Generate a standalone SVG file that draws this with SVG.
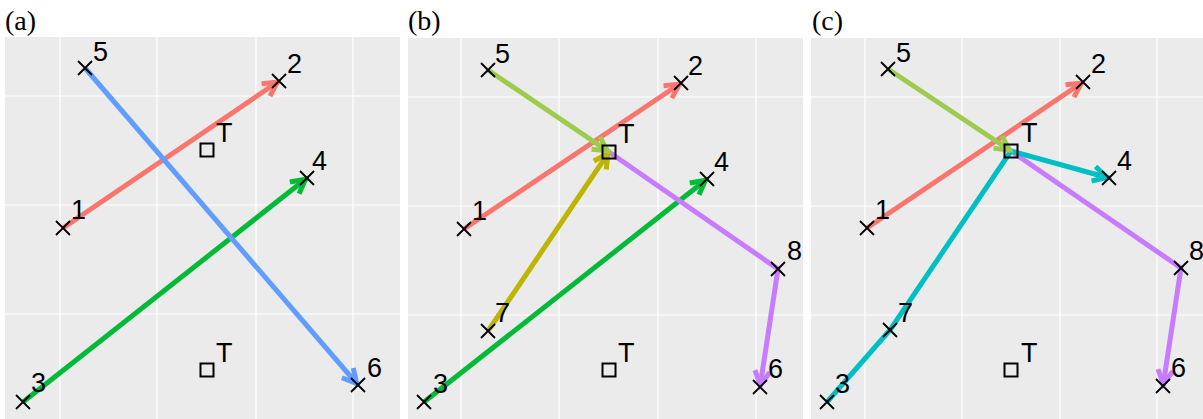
<svg xmlns="http://www.w3.org/2000/svg" xmlns:xlink="http://www.w3.org/1999/xlink" width="1203" height="419" viewBox="0 0 1203 419">
<style>
.bg{fill:#EBEBEB}
.grid{stroke:#FFFFFF;stroke-width:1.2;fill:none}
.ttl{font-family:"Liberation Serif","Times New Roman",serif;font-size:28px;fill:#000}
.lbl{font-family:"Liberation Sans",Arial,sans-serif;font-size:27px;fill:#000}
.x{stroke:#000;stroke-width:1.8;fill:none}
.sq{stroke:#000;stroke-width:2;fill:none}
.e{fill:none;stroke-width:5;stroke-linejoin:round}
.ah{fill:none;stroke-width:5;stroke-linejoin:miter}
</style>
<defs>
<path id="cx" d="M-7,-7L7,7M-7,7L7,-7"/>
<marker id="m-red" markerUnits="userSpaceOnUse" viewBox="-30 -15 40 30" markerWidth="40" markerHeight="30" refX="0" refY="0" orient="auto" overflow="visible"><path class="ah" stroke="#F8766D" d="M-16,-7.5L-2,0L-16,7.5"/></marker>
<marker id="m-grn" markerUnits="userSpaceOnUse" viewBox="-30 -15 40 30" markerWidth="40" markerHeight="30" refX="0" refY="0" orient="auto" overflow="visible"><path class="ah" stroke="#00BA38" d="M-16,-7.5L-2,0L-16,7.5"/></marker>
<marker id="m-blu" markerUnits="userSpaceOnUse" viewBox="-30 -15 40 30" markerWidth="40" markerHeight="30" refX="0" refY="0" orient="auto" overflow="visible"><path class="ah" stroke="#619CFF" d="M-16,-7.5L-2,0L-16,7.5"/></marker>
<marker id="m-lim" markerUnits="userSpaceOnUse" viewBox="-30 -15 40 30" markerWidth="40" markerHeight="30" refX="0" refY="0" orient="auto" overflow="visible"><path class="ah" stroke="#9CCB4E" d="M-16,-7.5L-2,0L-16,7.5"/></marker>
<marker id="m-oli" markerUnits="userSpaceOnUse" viewBox="-30 -15 40 30" markerWidth="40" markerHeight="30" refX="0" refY="0" orient="auto" overflow="visible"><path class="ah" stroke="#BDB500" d="M-16,-7.5L-2,0L-16,7.5"/></marker>
<marker id="m-pur" markerUnits="userSpaceOnUse" viewBox="-30 -15 40 30" markerWidth="40" markerHeight="30" refX="0" refY="0" orient="auto" overflow="visible"><path class="ah" stroke="#C77CFF" d="M-16,-7.5L-2,0L-16,7.5"/></marker>
<marker id="m-cya" markerUnits="userSpaceOnUse" viewBox="-30 -15 40 30" markerWidth="40" markerHeight="30" refX="0" refY="0" orient="auto" overflow="visible"><path class="ah" stroke="#00BFC4" d="M-16,-7.5L-2,0L-16,7.5"/></marker>
</defs>

<!-- panel backgrounds and grids -->
<g id="panels">
<rect class="bg" x="5" y="37" width="395" height="382"/>
<rect class="bg" x="408" y="38" width="395" height="381"/>
<rect class="bg" x="811" y="38" width="392" height="381"/>
<path class="grid" d="M60,37V419M157,37V419M256,37V419M353,37V419M5,96H400M5,205H400M5,314H400"/>
<path class="grid" d="M461,38V419M559,38V419M658,38V419M756,38V419M408,97H803M408,206H803M408,315H803"/>
<path class="grid" d="M865,38V419M962,38V419M1060,38V419M1157,38V419M811,97H1203M811,206H1203M811,315H1203"/>
<text class="ttl" x="5" y="30">(a)</text>
<text class="ttl" x="408" y="30">(b)</text>
<text class="ttl" x="812" y="30">(c)</text>
</g>

<!-- connectors -->
<g id="connectors">
<!-- panel a -->
<path class="e" stroke="#F8766D" d="M63,228L279,81" marker-end="url(#m-red)"/>
<path class="e" stroke="#00BA38" d="M23,402L307,178" marker-end="url(#m-grn)"/>
<path class="e" stroke="#619CFF" d="M85,68L358,385" marker-end="url(#m-blu)"/>
<!-- panel b -->
<path class="e" stroke="#F8766D" d="M464,229L681,83" marker-end="url(#m-red)"/>
<path class="e" stroke="#00BA38" d="M424,402L707,179" marker-end="url(#m-grn)"/>
<path class="e" stroke="#C77CFF" d="M609,152L778,269L760,387" marker-end="url(#m-pur)"/>
<path class="e" stroke="#BDB500" d="M488,331L609,152" marker-end="url(#m-oli)"/>
<path class="e" stroke="#9CCB4E" d="M488,70L609,152" marker-end="url(#m-lim)"/>
<!-- panel c -->
<path class="e" stroke="#F8766D" d="M867,228L1083,82" marker-end="url(#m-red)"/>
<path class="e" stroke="#C77CFF" d="M1011,151L1181,268L1163,386" marker-end="url(#m-pur)"/>
<path class="e" stroke="#00BFC4" d="M827,402L890,330L1011,151L1109,178" marker-end="url(#m-cya)"/>
<path class="e" stroke="#9CCB4E" d="M888,69L1011,151" marker-end="url(#m-lim)"/>
</g>

<!-- panel a nodes -->
<g id="a-n1"><use href="#cx" class="x" x="63" y="228"/><text class="lbl" x="71" y="219">1</text></g>
<g id="a-n2"><use href="#cx" class="x" x="279" y="81"/><text class="lbl" x="287" y="73">2</text></g>
<g id="a-n3"><use href="#cx" class="x" x="23" y="402"/><text class="lbl" x="31" y="392">3</text></g>
<g id="a-n4"><use href="#cx" class="x" x="307" y="178"/><text class="lbl" x="312" y="170">4</text></g>
<g id="a-n5"><use href="#cx" class="x" x="85" y="68"/><text class="lbl" x="93" y="61">5</text></g>
<g id="a-n6"><use href="#cx" class="x" x="358" y="385"/><text class="lbl" x="367" y="377">6</text></g>
<g id="a-T1"><rect class="sq" x="200.5" y="143.5" width="13" height="13"/><text class="lbl" x="216" y="142">T</text></g>
<g id="a-T2"><rect class="sq" x="200.5" y="363.5" width="13" height="13"/><text class="lbl" x="216" y="362">T</text></g>

<!-- panel b nodes -->
<g id="b-n1"><use href="#cx" class="x" x="464" y="229"/><text class="lbl" x="472" y="220">1</text></g>
<g id="b-n2"><use href="#cx" class="x" x="681" y="83"/><text class="lbl" x="688" y="75">2</text></g>
<g id="b-n3"><use href="#cx" class="x" x="424" y="402"/><text class="lbl" x="433" y="393">3</text></g>
<g id="b-n4"><use href="#cx" class="x" x="707" y="179"/><text class="lbl" x="714" y="171">4</text></g>
<g id="b-n5"><use href="#cx" class="x" x="488" y="70"/><text class="lbl" x="495" y="63">5</text></g>
<g id="b-n6"><use href="#cx" class="x" x="760" y="387"/><text class="lbl" x="768" y="378">6</text></g>
<g id="b-n7"><use href="#cx" class="x" x="488" y="331"/><text class="lbl" x="495" y="322">7</text></g>
<g id="b-n8"><use href="#cx" class="x" x="778" y="269"/><text class="lbl" x="787" y="260">8</text></g>
<g id="b-T1"><rect class="sq" x="602.5" y="145.5" width="13" height="13"/><text class="lbl" x="618" y="143">T</text></g>
<g id="b-T2"><rect class="sq" x="602.5" y="363.5" width="13" height="13"/><text class="lbl" x="618" y="362">T</text></g>

<!-- panel c nodes -->
<g id="c-n1"><use href="#cx" class="x" x="867" y="228"/><text class="lbl" x="875" y="219">1</text></g>
<g id="c-n2"><use href="#cx" class="x" x="1083" y="82"/><text class="lbl" x="1091" y="73">2</text></g>
<g id="c-n3"><use href="#cx" class="x" x="827" y="402"/><text class="lbl" x="835" y="393">3</text></g>
<g id="c-n4"><use href="#cx" class="x" x="1109" y="178"/><text class="lbl" x="1117" y="170">4</text></g>
<g id="c-n5"><use href="#cx" class="x" x="888" y="69"/><text class="lbl" x="896" y="62">5</text></g>
<g id="c-n6"><use href="#cx" class="x" x="1163" y="386"/><text class="lbl" x="1171" y="377">6</text></g>
<g id="c-n7"><use href="#cx" class="x" x="890" y="330"/><text class="lbl" x="898" y="322">7</text></g>
<g id="c-n8"><use href="#cx" class="x" x="1181" y="268"/><text class="lbl" x="1189" y="260">8</text></g>
<g id="c-T1"><rect class="sq" x="1004.5" y="144.5" width="13" height="13"/><text class="lbl" x="1021" y="142">T</text></g>
<g id="c-T2"><rect class="sq" x="1004.5" y="363.5" width="13" height="13"/><text class="lbl" x="1021" y="362">T</text></g>
</svg>
